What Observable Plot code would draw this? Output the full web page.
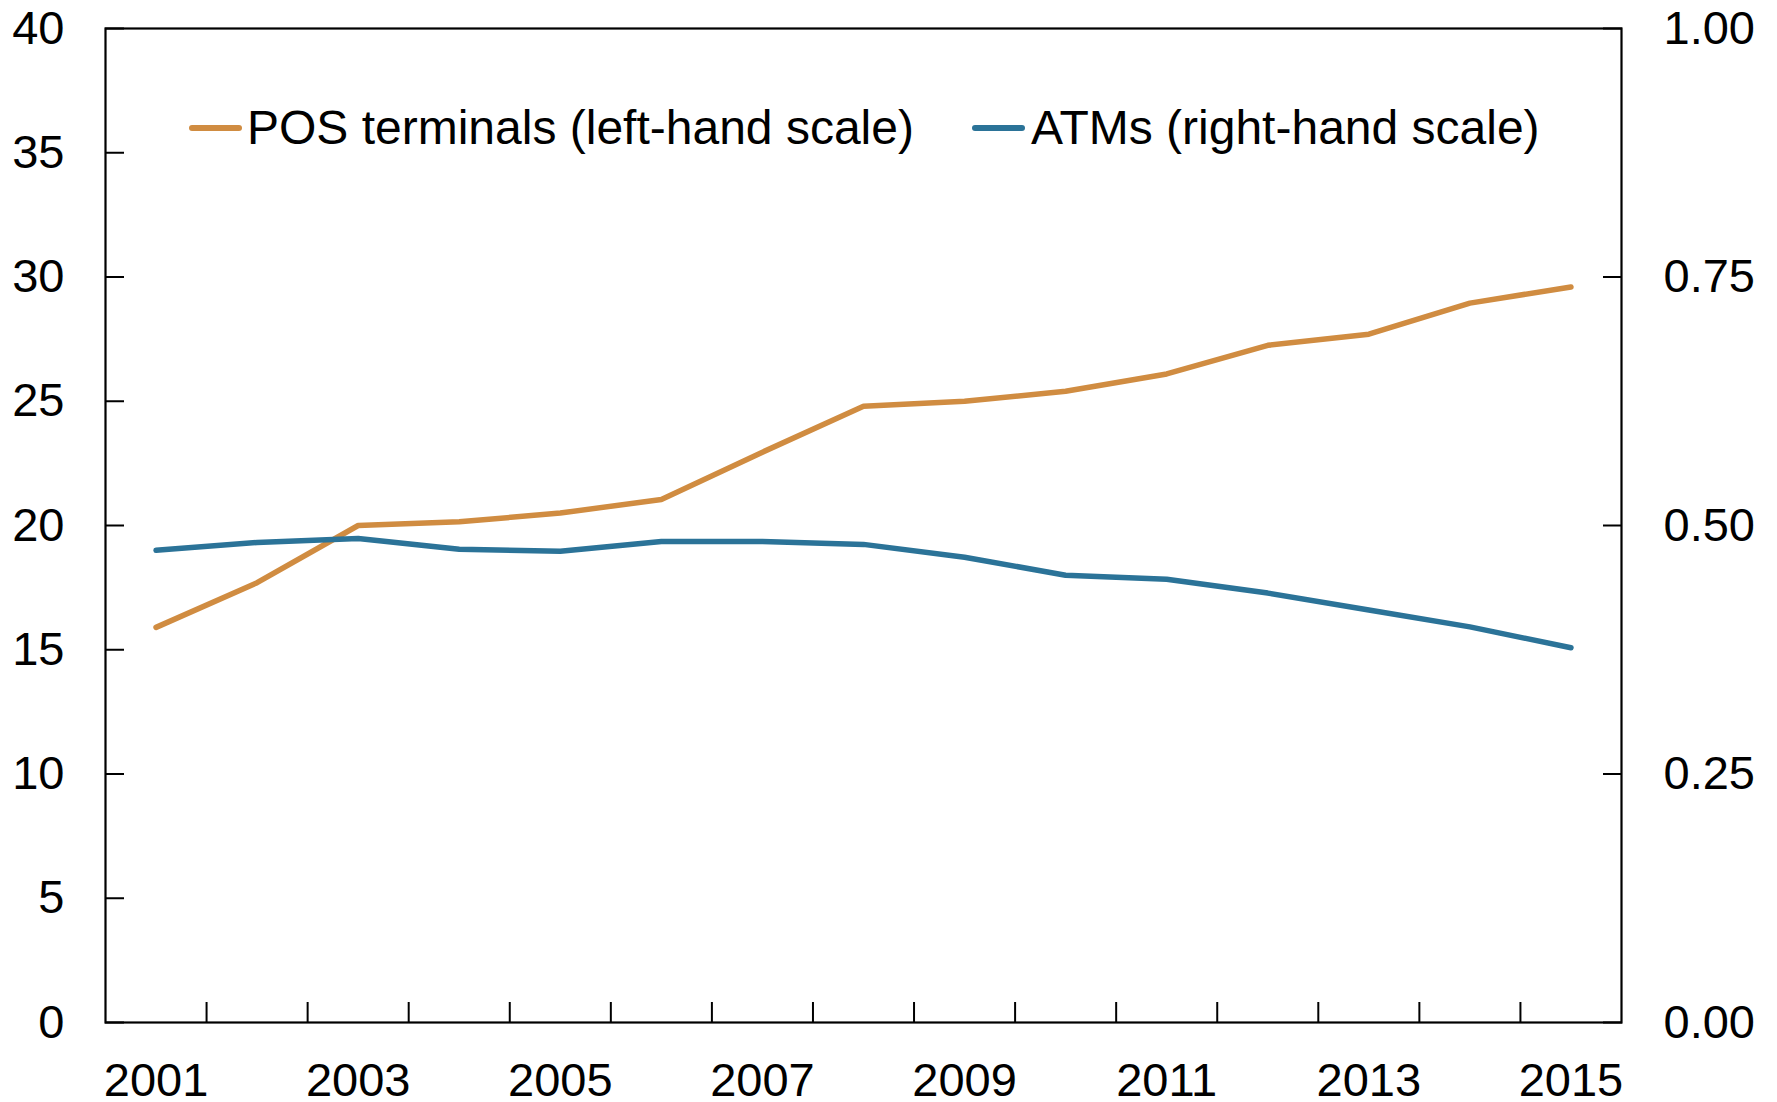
<!DOCTYPE html>
<html>
<head>
<meta charset="utf-8">
<script src="https://cdn.jsdelivr.net/npm/d3@7"></script>
<script src="https://cdn.jsdelivr.net/npm/@observablehq/plot@0.6"></script>
<style>
  html, body { margin: 0; padding: 0; background: #fff; }
  #wrap { position: relative; width: 1777px; height: 1102px; font-family: "Liberation Sans", Arial, sans-serif; }
  .leg-line { position: absolute; height: 6px; border-radius: 3px; }
  .leg-text { position: absolute; font-size: 48px; line-height: 48px; color: #000; white-space: nowrap; }
</style>
</head>
<body>
<div id="wrap"></div>
<script>
const years = [2001, 2002, 2003, 2004, 2005, 2006, 2007, 2008, 2009, 2010, 2011, 2012, 2013, 2014, 2015];
const posTerminals = [15.9, 17.7, 20.0, 20.15, 20.5, 21.05, 22.95, 24.8, 25.0, 25.4, 26.1, 27.25, 27.7, 28.95, 29.6];
const atms = [0.475, 0.483, 0.487, 0.476, 0.474, 0.484, 0.484, 0.481, 0.468, 0.450, 0.446, 0.432, 0.415, 0.398, 0.377];
const leftTicks = [0, 5, 10, 15, 20, 25, 30, 35, 40];
const rightTicks = [0, 0.25, 0.5, 0.75, 1.0];
const yearLabels = [2001, 2003, 2005, 2007, 2009, 2011, 2013, 2015];
const yearBoundaries = [2001.5, 2002.5, 2003.5, 2004.5, 2005.5, 2006.5, 2007.5, 2008.5, 2009.5, 2010.5, 2011.5, 2012.5, 2013.5, 2014.5];
const seriesNames = ["POS terminals (left-hand scale)", "ATMs (right-hand scale)"];
const colors = ["#D08C41", "#2B7398"];
const leftMax = 40, rightMax = 1;

const posData = years.map((y, i) => ({year: y, value: posTerminals[i]}));
const atmData = years.map((y, i) => ({year: y, value: atms[i]}));

const fontSize = 47;

const chart = Plot.plot({
  width: 1777,
  height: 1102,
  marginLeft: 105,
  marginRight: 156,
  marginTop: 28,
  marginBottom: 80,
  style: {fontFamily: "Liberation Sans, Arial, sans-serif", fontSize: fontSize + "px", color: "#000", background: "#fff"},
  x: {domain: [2000.5, 2015.5], label: null},
  y: {domain: [0, leftMax], label: null},
  marks: [
    Plot.axisY(leftTicks, {anchor: "left", label: null, tickSize: 0, tickPadding: 41, fontSize, tickFormat: d => String(d)}),
    Plot.axisY(leftTicks, {anchor: "left", label: null, tickSize: -19, tickFormat: () => "", strokeWidth: 2}),
    Plot.axisY(rightTicks.map(v => v * leftMax / rightMax), {anchor: "right", label: null, tickSize: 0, tickPadding: 42, fontSize, tickFormat: d => (d * rightMax / leftMax).toFixed(2)}),
    Plot.axisY(rightTicks.map(v => v * leftMax / rightMax), {anchor: "right", label: null, tickSize: -19, tickFormat: () => "", strokeWidth: 2}),
    Plot.axisX(yearLabels, {anchor: "bottom", label: null, tickSize: 0, tickPadding: 40, fontSize, tickFormat: d => String(d)}),
    Plot.axisX(yearBoundaries, {anchor: "bottom", label: null, tickSize: -20, tickFormat: () => "", strokeWidth: 2}),
    Plot.frame({stroke: "#000", strokeWidth: 2.2}),
    Plot.line(posData, {x: "year", y: "value", stroke: colors[0], strokeWidth: 5.5, strokeLinecap: "round", strokeLinejoin: "miter"}),
    Plot.line(atmData, {x: "year", y: d => d.value * leftMax / rightMax, stroke: colors[1], strokeWidth: 5.5, strokeLinecap: "round", strokeLinejoin: "miter"})
  ]
});

const wrap = document.getElementById("wrap");
wrap.appendChild(chart);
chart.style.position = "absolute";
chart.style.left = "0px";
chart.style.top = "0px";

const legendItems = [
  {name: seriesNames[0], color: colors[0], lineX: 189, textX: 247},
  {name: seriesNames[1], color: colors[1], lineX: 972, textX: 1031}
];
const legendY = 128;
for (const it of legendItems) {
  const ln = document.createElement("div");
  ln.className = "leg-line";
  ln.style.left = it.lineX + "px";
  ln.style.width = "53px";
  ln.style.top = (legendY - 3) + "px";
  ln.style.background = it.color;
  wrap.appendChild(ln);
  const tx = document.createElement("div");
  tx.className = "leg-text";
  tx.style.left = it.textX + "px";
  tx.style.top = (legendY - 24) + "px";
  tx.textContent = it.name;
  wrap.appendChild(tx);
}
</script>
</body>
</html>
